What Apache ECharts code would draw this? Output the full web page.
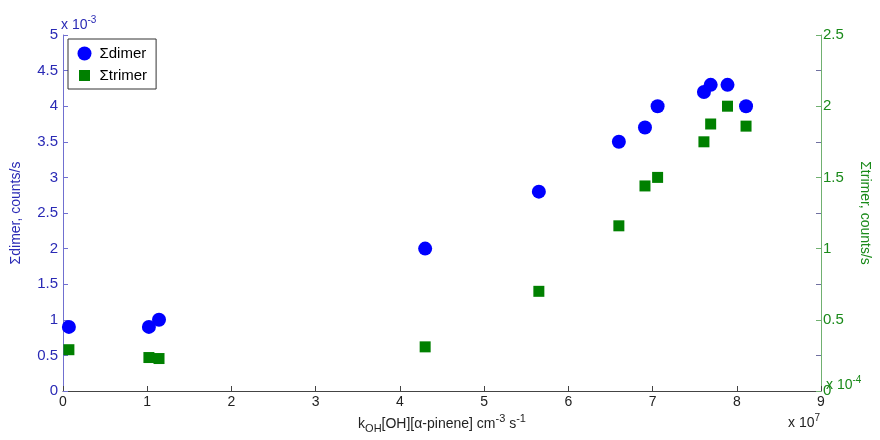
<!DOCTYPE html>
<html>
<head>
<meta charset="utf-8">
<script src="https://cdn.jsdelivr.net/npm/echarts@6/dist/echarts.min.js"></script>
<style>html,body{margin:0;padding:0;background:#fff}#c{width:880px;height:440px}</style>
</head>
<body>
<div id="c"></div>
<script>
// x values in units of 10^7 cm^-3 s^-1
var xValues = [0.07, 1.02, 1.14, 4.30, 5.65, 6.60, 6.91, 7.06, 7.61, 7.69, 7.89, 8.11];
// Σdimer in units of 10^-3 counts/s
var dimerValues = [0.9, 0.9, 1.0, 2.0, 2.8, 3.5, 3.7, 4.0, 4.2, 4.3, 4.3, 4.0];
// Σtrimer in units of 10^-4 counts/s
var trimerValues = [0.29, 0.235, 0.228, 0.31, 0.70, 1.16, 1.44, 1.50, 1.75, 1.875, 2.0, 1.86];
var xTicks = [0, 1, 2, 3, 4, 5, 6, 7, 8, 9];
var leftTicks = [0, 0.5, 1, 1.5, 2, 2.5, 3, 3.5, 4, 4.5, 5];
var rightTicks = [0, 0.5, 1, 1.5, 2, 2.5];

var FONT = 'Liberation Sans, Arial, sans-serif';
var BLUE = '#2a2ab5';
var GREEN = '#1a8a1a';

function pairs(xs, ys) { return xs.map(function (x, i) { return [x, ys[i]]; }); }

var chart = echarts.init(document.getElementById('c'), null, { renderer: 'canvas' });
chart.setOption({
  backgroundColor: '#fff',
  animation: false,
  textStyle: { fontFamily: FONT },
  grid: { left: 63, right: 55, top: 35, bottom: 49, containLabel: false },
  legend: {
    orient: 'vertical', left: 68, top: 39,
    borderColor: '#333', borderWidth: 1, padding: [7, 9, 5, 8],
    itemGap: 6, itemWidth: 20, itemHeight: 14, symbolKeepAspect: true,
    textStyle: { color: '#000', fontSize: 15, fontFamily: FONT },
    data: [
      { name: 'Σdimer', icon: 'circle', itemStyle: { color: '#0000ff', opacity: 1 } },
      { name: 'Σtrimer', icon: 'path://M0,0L10,0L10,10L0,10Z', itemStyle: { color: '#008000', opacity: 1, borderColor: '#fff', borderWidth: 3 } }
    ]
  },
  xAxis: {
    type: 'value', min: xTicks[0], max: xTicks[xTicks.length - 1], interval: 1,
    name: '{n|k}{s|OH}{n|[OH][α-pinene] cm}{p|-3}{n| s}{p|-1}',
    nameLocation: 'middle', nameGap: 22,
    nameTextStyle: {
      rich: {
        n: { fontSize: 14, color: '#222', fontFamily: FONT },
        s: { fontSize: 11, color: '#222', fontFamily: FONT, padding: [10, 0, 0, 0] },
        p: { fontSize: 11, color: '#222', fontFamily: FONT, padding: [0, 0, 10, 0] }
      }
    },
    axisLine: { lineStyle: { color: '#444', width: 1 } },
    axisTick: { inside: true, length: 5, lineStyle: { color: '#444' } },
    axisLabel: { color: '#222', fontSize: 14, margin: 4, fontFamily: FONT },
    splitLine: { show: false }
  },
  yAxis: [
    {
      type: 'value', position: 'left', min: leftTicks[0], max: leftTicks[leftTicks.length - 1], interval: 0.5,
      name: 'Σdimer, counts/s', nameLocation: 'middle', nameGap: 40, nameRotate: 90,
      nameTextStyle: { color: BLUE, fontSize: 14, fontFamily: FONT },
      axisLine: { show: true, onZero: false, lineStyle: { color: '#7070d0' } },
      axisTick: { show: true, inside: true, length: 5, lineStyle: { color: '#7070d0' } },
      axisLabel: { color: BLUE, fontSize: 15, margin: 5, fontFamily: FONT },
      splitLine: { show: false }
    },
    {
      type: 'value', position: 'right', min: rightTicks[0], max: rightTicks[rightTicks.length - 1], interval: 0.5,
      name: 'Σtrimer, counts/s', nameLocation: 'middle', nameGap: 37, nameRotate: -90,
      nameTextStyle: { color: GREEN, fontSize: 14, fontFamily: FONT },
      axisLine: { show: true, onZero: false, lineStyle: { color: '#70b070' } },
      axisTick: { show: true, inside: true, length: 5, lineStyle: { color: '#70b070' } },
      minorTick: { show: true, splitNumber: 2, length: 5, lineStyle: { color: '#7070a0' } },
      axisLabel: { color: GREEN, fontSize: 15, margin: 2, fontFamily: FONT },
      splitLine: { show: false }
    }
  ],
  series: [
    {
      name: 'Σdimer', type: 'scatter', yAxisIndex: 0, symbol: 'circle', symbolSize: 14,
      itemStyle: { color: '#0000ff', opacity: 1 }, data: pairs(xValues, dimerValues), z: 3
    },
    {
      name: 'Σtrimer', type: 'scatter', yAxisIndex: 1, symbol: 'rect', symbolSize: 11,
      itemStyle: { color: '#008000', opacity: 1 }, data: pairs(xValues, trimerValues), z: 2
    }
  ],
  graphic: [
    { type: 'text', left: 61, top: 15, style: { text: '{n|x 10}{p|-3}', rich: {
      n: { fontSize: 14, fill: BLUE, fontFamily: FONT }, p: { fontSize: 10, fill: BLUE, fontFamily: FONT, padding: [0, 0, 10, 0] } } } },
    { type: 'text', left: 788, top: 413, style: { text: '{n|x 10}{p|7}', rich: {
      n: { fontSize: 14, fill: '#222', fontFamily: FONT }, p: { fontSize: 10, fill: '#222', fontFamily: FONT, padding: [0, 0, 10, 0] } } } },
    { type: 'text', left: 826, top: 375, style: { text: '{n|x 10}{p|-4}', rich: {
      n: { fontSize: 14, fill: GREEN, fontFamily: FONT }, p: { fontSize: 10, fill: GREEN, fontFamily: FONT, padding: [0, 0, 10, 0] } } } }
  ]
});
</script>
</body>
</html>
